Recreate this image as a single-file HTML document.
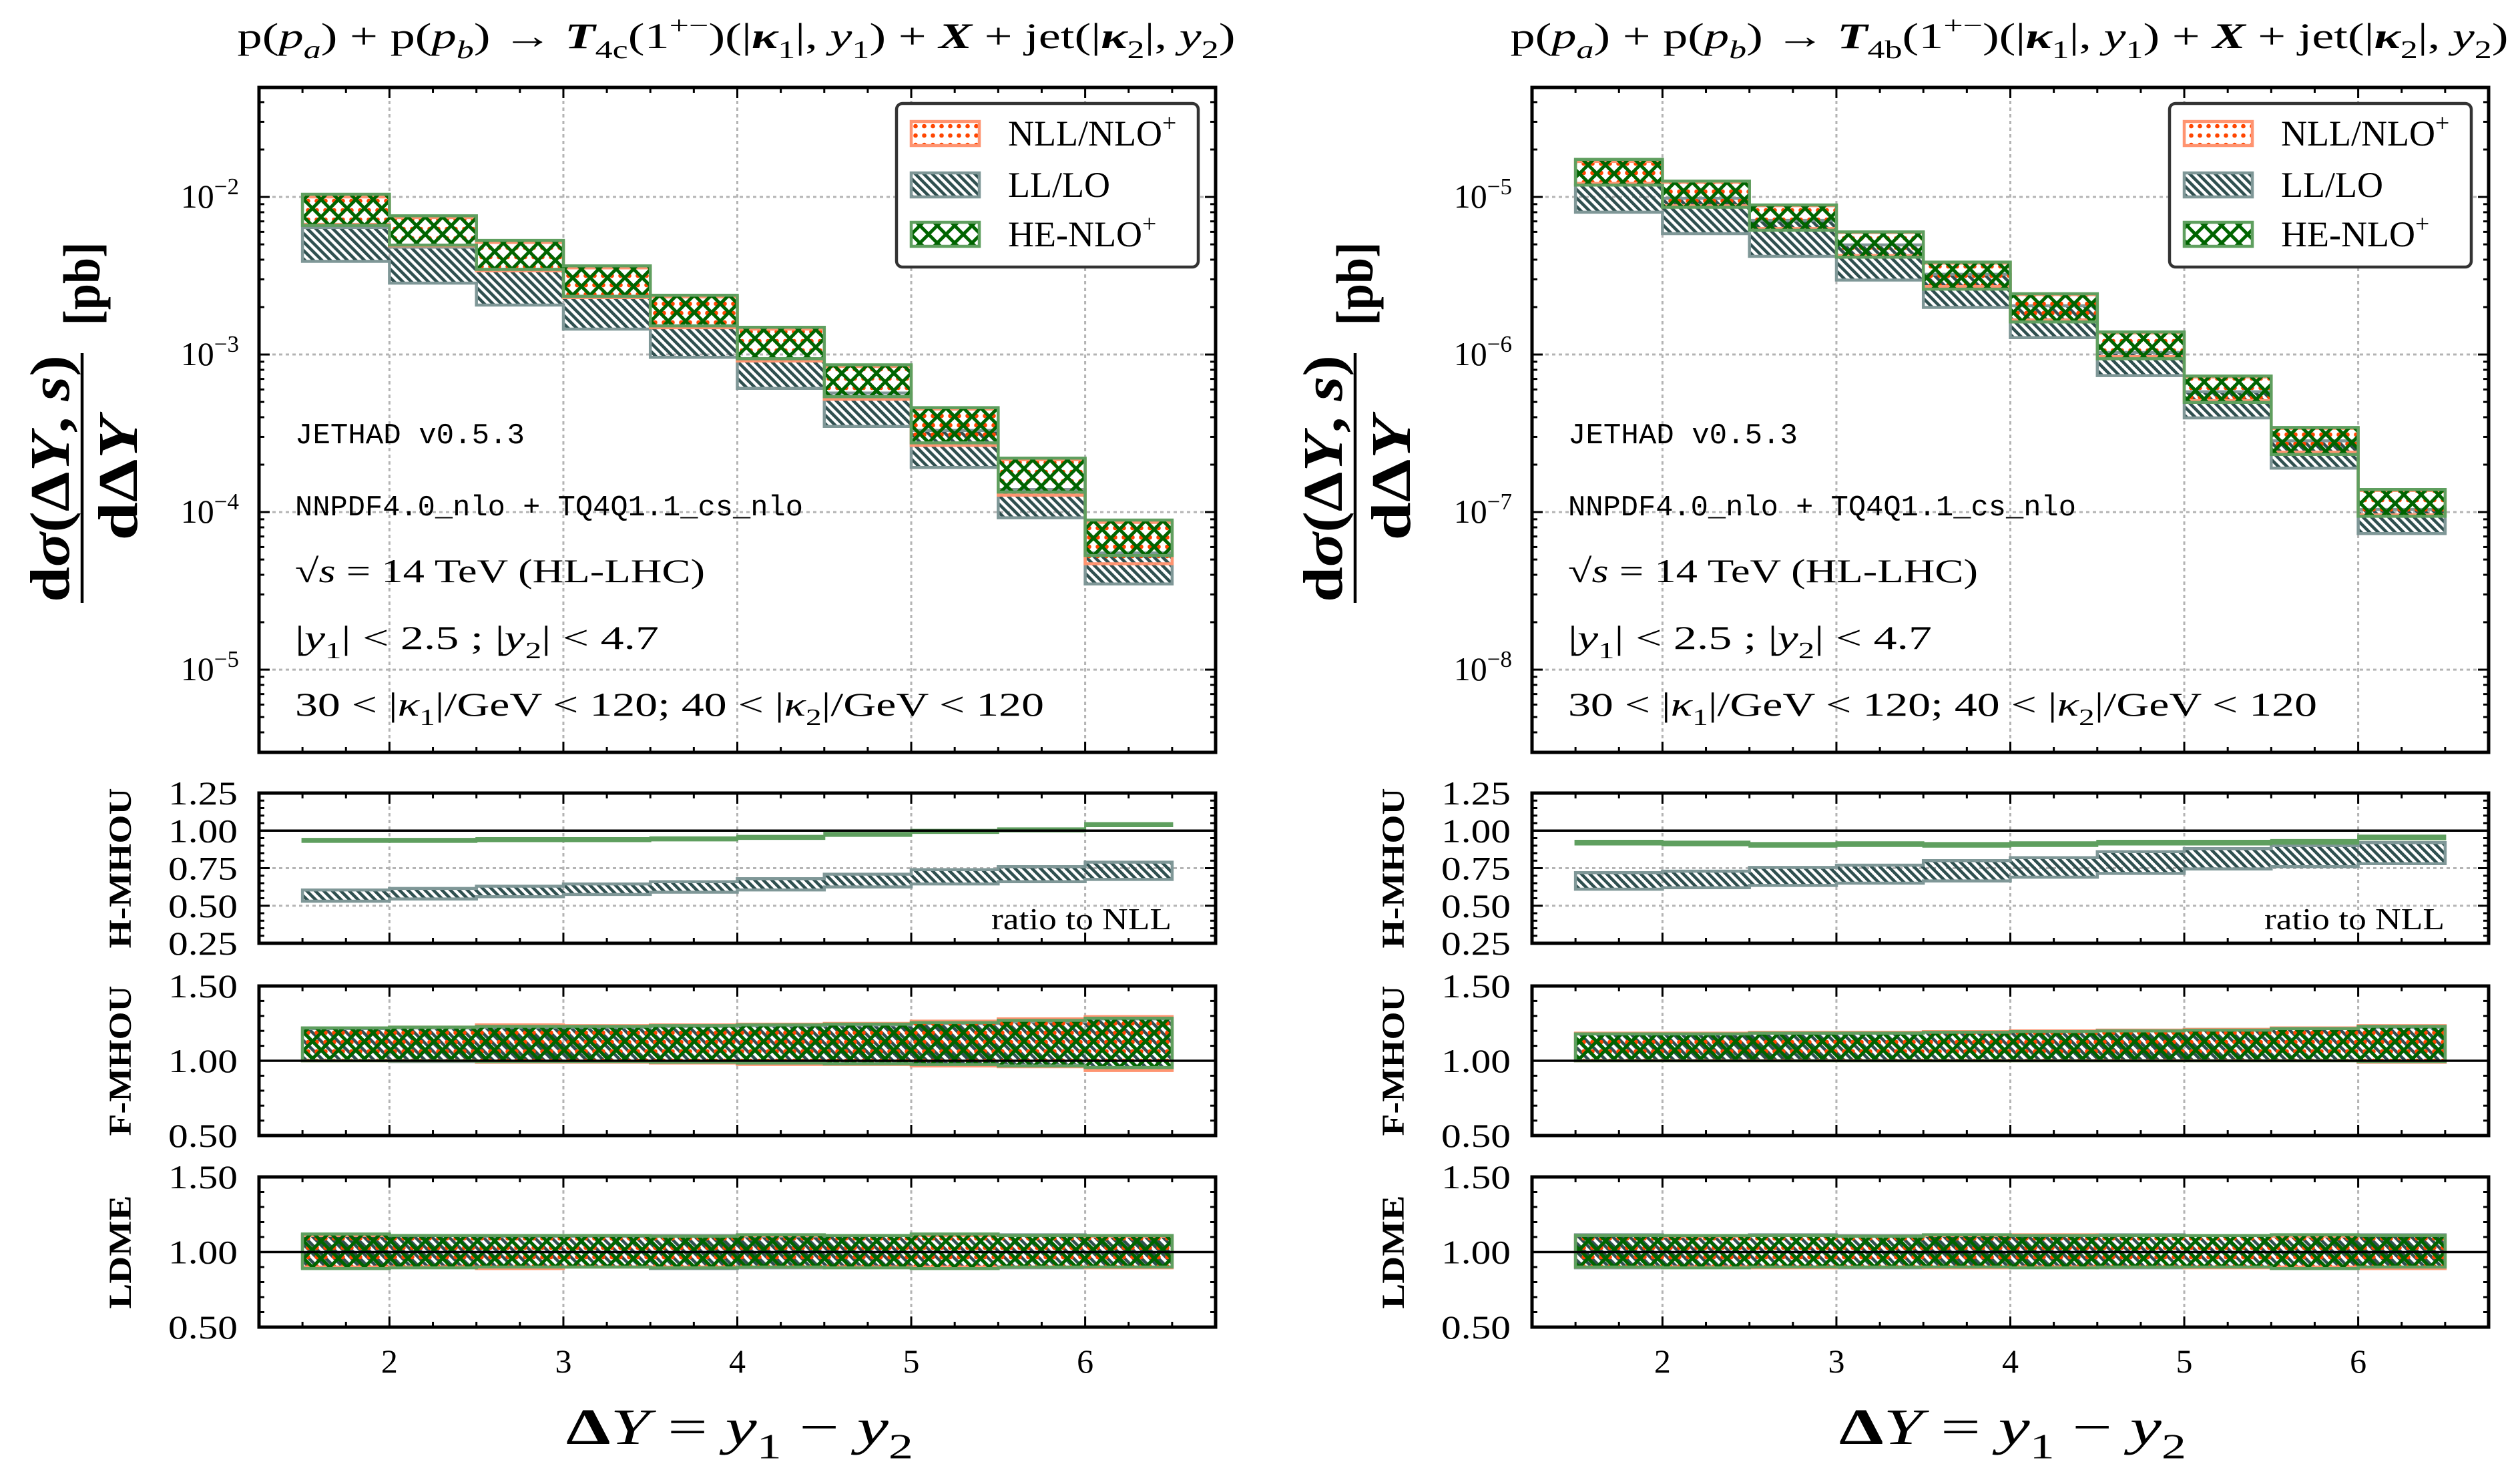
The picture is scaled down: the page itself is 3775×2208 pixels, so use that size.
<!DOCTYPE html>
<html><head><meta charset="utf-8">
<style>
html,body{margin:0;padding:0;background:#fff;}
svg{display:block;}
text{font-family:"Liberation Serif","DejaVu Serif",serif;fill:#000;}
.mono{font-family:"Liberation Mono","DejaVu Sans Mono",monospace;}
</style></head>
<body>
<svg id="fig" xmlns="http://www.w3.org/2000/svg" width="3775" height="2208" viewBox="0 0 3775 2208">
<defs>
<pattern id="pDots" width="13" height="14" patternUnits="userSpaceOnUse"><circle cx="6.5" cy="7" r="3.3" fill="#ff4500"/></pattern>
<pattern id="pStripe" width="9" height="9" patternUnits="userSpaceOnUse" patternTransform="rotate(-45)"><rect x="0" y="0" width="4.6" height="9" fill="#2f4f4f"/></pattern>
<pattern id="pCross" width="26" height="26" patternUnits="userSpaceOnUse"><path d="M-3,-3L29,29M29,-3L-3,29" stroke="#006400" stroke-width="5"/></pattern>
</defs>
<rect x="0" y="0" width="3775" height="2208" fill="#fff"/>
</svg>
<script>
// ---------------- data ----------------
const binEdges = [1.5,2,2.5,3,3.5,4,4.5,5,5.5,6,6.5];
const xTicks = [2,3,4,5,6];
// left panel: T4c
const c_nll_hi = [1.0e-2,7.4e-3,5.15e-3,3.55e-3,2.32e-3,1.45e-3,8.4e-4,4.5e-4,2.15e-4,8.6e-5];
const c_nll_lo = [6.7e-3,4.9e-3,3.4e-3,2.3e-3,1.48e-3,9.1e-4,5.2e-4,2.65e-4,1.28e-4,4.7e-5];
const c_ll_hi  = [6.4e-3,4.8e-3,3.47e-3,2.34e-3,1.52e-3,9.4e-4,5.7e-4,3.3e-4,1.39e-4,5.5e-5];
const c_ll_lo  = [3.9e-3,2.84e-3,2.06e-3,1.45e-3,9.6e-4,6.1e-4,3.5e-4,1.92e-4,9.2e-5,3.5e-5];
const c_he_hi  = [1.04e-2,7.6e-3,5.3e-3,3.65e-3,2.38e-3,1.49e-3,8.6e-4,4.6e-4,2.2e-4,8.9e-5];
const c_he_lo  = [6.6e-3,4.95e-3,3.47e-3,2.34e-3,1.52e-3,9.4e-4,5.4e-4,2.75e-4,1.34e-4,5.3e-5];
// right panel: T4b
const b_nll_hi = [1.68e-5,1.24e-5,8.8e-6,5.95e-6,3.8e-6,2.4e-6,1.37e-6,7.2e-7,3.4e-7,1.37e-7];
const b_nll_lo = [1.22e-5,8.8e-6,6.3e-6,4.25e-6,2.7e-6,1.66e-6,9.7e-7,5.1e-7,2.4e-7,9.6e-8];
const b_ll_hi  = [1.19e-5,9.8e-6,7.1e-6,4.96e-6,3.23e-6,2.04e-6,1.03e-6,5.8e-7,2.83e-7,1.04e-7];
const b_ll_lo  = [8.0e-6,5.85e-6,4.2e-6,2.97e-6,1.99e-6,1.28e-6,7.35e-7,3.96e-7,1.9e-7,7.3e-8];
const b_he_hi  = [1.73e-5,1.26e-5,8.9e-6,6.0e-6,3.86e-6,2.43e-6,1.39e-6,7.3e-7,3.44e-7,1.39e-7];
const b_he_lo  = [1.19e-5,8.6e-6,6.15e-6,4.15e-6,2.6e-6,1.61e-6,9.4e-7,4.97e-7,2.32e-7,9.4e-8];
// H-MHOU ratios
const c_h_he_hi = [0.945,0.945,0.95,0.95,0.955,0.965,0.985,1.005,1.015,1.05];
const c_h_he_lo = [0.925,0.925,0.93,0.93,0.935,0.945,0.965,0.985,0.995,1.03];
const c_h_ll_hi = [0.605,0.615,0.63,0.645,0.66,0.68,0.71,0.74,0.76,0.79];
const c_h_ll_lo = [0.53,0.545,0.56,0.575,0.59,0.605,0.625,0.645,0.66,0.675];
const b_h_he_hi = [0.932,0.927,0.917,0.922,0.917,0.922,0.932,0.932,0.937,0.967];
const b_h_he_lo = [0.908,0.903,0.893,0.898,0.893,0.898,0.908,0.908,0.913,0.943];
const b_h_ll_hi = [0.72,0.73,0.755,0.77,0.8,0.82,0.86,0.88,0.9,0.92];
const b_h_ll_lo = [0.61,0.62,0.635,0.65,0.665,0.69,0.715,0.745,0.76,0.78];
// F-MHOU ratios
const c_f_nll_hi = [1.22,1.225,1.24,1.235,1.24,1.245,1.25,1.265,1.28,1.295];
const c_f_nll_lo = [1.0,1.0,0.99,0.99,0.985,0.975,0.975,0.965,0.96,0.935];
const c_f_ll_hi  = [1.215,1.22,1.225,1.225,1.23,1.235,1.24,1.25,1.26,1.28];
const c_f_ll_lo  = [1.0,0.995,0.995,0.99,0.99,0.985,0.98,0.975,0.97,0.955];
const c_f_he_hi  = [1.22,1.225,1.23,1.23,1.235,1.24,1.245,1.255,1.27,1.285];
const c_f_he_lo  = [1.0,1.0,0.995,0.995,0.99,0.985,0.98,0.975,0.965,0.955];
const b_f_nll_hi = [1.185,1.185,1.19,1.19,1.195,1.2,1.205,1.21,1.22,1.235];
const b_f_nll_lo = [1.0,1.0,1.0,1.0,1.0,1.0,1.0,1.0,1.0,0.99];
const b_f_ll_hi  = [1.18,1.18,1.185,1.19,1.195,1.2,1.205,1.21,1.215,1.225];
const b_f_ll_lo  = [1.0,1.0,1.0,1.0,1.0,1.0,1.0,1.0,1.0,0.99];
const b_f_he_hi  = [1.18,1.18,1.185,1.185,1.19,1.195,1.2,1.205,1.215,1.23];
const b_f_he_lo  = [1.0,1.0,1.0,1.0,1.0,1.0,1.0,1.0,1.0,0.995];
// LDME ratios
const c_l_nll_hi = [1.11,1.11,1.11,1.11,1.105,1.11,1.11,1.11,1.11,1.105];
const c_l_nll_lo = [0.9,0.9,0.89,0.9,0.9,0.9,0.9,0.9,0.9,0.895];
const c_l_ll_hi  = [1.115,1.11,1.105,1.105,1.11,1.105,1.11,1.11,1.115,1.11];
const c_l_ll_lo  = [0.895,0.9,0.9,0.9,0.89,0.895,0.9,0.895,0.895,0.9];
const c_l_he_hi  = [1.12,1.11,1.11,1.11,1.105,1.115,1.11,1.12,1.11,1.11];
const c_l_he_lo  = [0.89,0.895,0.9,0.9,0.895,0.9,0.895,0.89,0.9,0.9];
const b_l_nll_hi = [1.11,1.105,1.11,1.105,1.11,1.115,1.11,1.11,1.105,1.11];
const b_l_nll_lo = [0.9,0.9,0.895,0.9,0.895,0.9,0.9,0.895,0.9,0.89];
const b_l_ll_hi  = [1.115,1.11,1.115,1.11,1.11,1.11,1.115,1.11,1.11,1.115];
const b_l_ll_lo  = [0.895,0.9,0.9,0.895,0.9,0.9,0.895,0.9,0.895,0.9];
const b_l_he_hi  = [1.11,1.11,1.11,1.105,1.115,1.11,1.11,1.11,1.115,1.11];
const b_l_he_lo  = [0.9,0.895,0.9,0.9,0.9,0.895,0.9,0.9,0.89,0.9];
const mainTickExpLeft = [-2,-3,-4,-5];
const mainTickExpRight = [-5,-6,-7,-8];
const hTickLabels = ["0.25","0.50","0.75","1.00","1.25"];
const fTickLabels = ["0.50","1.00","1.50"];

// ---------------- drawing ----------------
const NS = "http://www.w3.org/2000/svg";
const svg = document.getElementById('fig');
function mk(tag, attrs, parent){
  const e = document.createElementNS(NS, tag);
  for (const k in attrs) e.setAttribute(k, attrs[k]);
  parent.appendChild(e);
  return e;
}
// segs: [text, flags]; flags: i=italic b=bold _=sub ^=sup
function mkText(parent, x, y, size, segs, anchor, len){
  const t = mk('text', {x:x, y:y, 'font-size':size, 'text-anchor':anchor||'start'}, parent);
  if (len) { t.setAttribute('textLength', len); t.setAttribute('lengthAdjust','spacingAndGlyphs'); }
  let cur = 0;
  for (const [s, f] of segs) {
    let want = 0, fs = size;
    if (f.includes('_')) { want = size*0.28; fs = size*0.7; }
    if (f.includes('^')) { want = -size*0.4; fs = size*0.7; }
    const ts = mk('tspan', {dy: want-cur, 'font-size': fs}, t);
    if (f.includes('i')) ts.setAttribute('font-style','italic');
    if (f.includes('b')) ts.setAttribute('font-weight','bold');
    ts.textContent = s;
    cur = want;
  }
  return t;
}

const XMIN = 1.25, XMAX = 6.75;
const PX0 = 388, PW = 1433;
const mainY0 = 131, mainY1 = 1127;
const ratioBoxes = [[1188,1413,0.25,1.25],[1477,1701,0.5,1.5],[1763,1988,0.5,1.5]];

function stepPoints(X, Y, hi, lo){
  const pts = [];
  for (let i=0;i<hi.length;i++){ pts.push([X(binEdges[i]),Y(hi[i])]); pts.push([X(binEdges[i+1]),Y(hi[i])]); }
  for (let i=lo.length-1;i>=0;i--){ pts.push([X(binEdges[i+1]),Y(lo[i])]); pts.push([X(binEdges[i]),Y(lo[i])]); }
  return pts.map(p=>p[0].toFixed(1)+','+p[1].toFixed(1)).join(' ');
}
const styles = {
  nll: {fill:'url(#pDots)', stroke:'#ff9470'},
  ll:  {fill:'url(#pStripe)', stroke:'#7f9797'},
  he:  {fill:'url(#pCross)', stroke:'#5f9f5f'}
};
function band(g, X, Y, hi, lo, kind, name){
  const p = mk('polygon', {points: stepPoints(X,Y,hi,lo), fill: styles[kind].fill, stroke: styles[kind].stroke, 'stroke-width':4.5, 'stroke-linejoin':'miter'}, g);
  
  
}

function xGrid(g, y0, y1, X){
  for (const t of xTicks) {
    const l = mk('line', {x1:X(t), x2:X(t), y1:y0, y2:y1, stroke:'#b4b4b4', 'stroke-width':3, 'stroke-dasharray':'5,5'}, g);
    
    
  }
}
function xTickMarks(g, y0, y1, X){
  for (let v=1.5; v<=6.5+1e-9; v+=0.25) {
    const major = Math.abs(v-Math.round(v))<1e-9;
    const L = major?16:8;
    mk('line', {x1:X(v), x2:X(v), y1:y1, y2:y1-L, stroke:'#000','stroke-width':3}, g);
    mk('line', {x1:X(v), x2:X(v), y1:y0, y2:y0+L, stroke:'#000','stroke-width':3}, g);
  }
}
function frame(g, px0, y0, y1, name){
  const r = mk('rect', {x:px0, y:y0, width:PW, height:y1-y0, fill:'none', stroke:'#000', 'stroke-width':5}, g);
  
  
}

function drawPanel(ox, sub, d){
  const g = mk('g', {}, svg);
  
  
  const px0 = PX0 + ox;
  const X = v => px0 + (v - XMIN)/(XMAX - XMIN)*PW;

  // title
  const title = mkText(g, 1103 + ox, 72, 54, [
    ['p(',''],['p','i'],['a','i_'],[') + p(',''],['p','i'],['b','i_'],[') → ',''],['T','ib'],[sub,'_'],['(1',''],['+−','^'],[')(|',''],['κ','ib'],['1','_'],['|, ',''],['y','i'],['1','_'],[') + ',''],['X','ib'],[' + jet(|',''],['κ','ib'],['2','_'],['|, ',''],['y','i'],['2','_'],[')','']
  ], 'middle', 1495);
  
  

  // ---- main panel ----
  const topL = d.logTop, botL = d.logTop - 4.22;
  const Y = v => mainY0 + (topL - Math.log10(v))/(topL - botL)*(mainY1 - mainY0);
  const mg = mk('g', {}, g);
  
  
  xGrid(mg, mainY0, mainY1, X);
  for (const e of d.exps) {
    const yy = Y(Math.pow(10,e));
    const l = mk('line', {x1:px0, x2:px0+PW, y1:yy, y2:yy, stroke:'#b4b4b4','stroke-width':3,'stroke-dasharray':'5,5'}, mg);
    
    
    const lab = mkText(mg, px0-30, yy+16, 50, [['10',''],['−'+(-e),'^']], 'end');
    
    
  }
  for (let e = Math.floor(botL); e <= Math.ceil(topL); e++) {
    for (let m=1; m<=9; m++) {
      const v = m*Math.pow(10,e);
      const lv = Math.log10(v);
      if (lv < botL || lv > topL) continue;
      const yy = Y(v), L = m===1?16:8;
      mk('line',{x1:px0,x2:px0+L,y1:yy,y2:yy,stroke:'#000','stroke-width':3},mg);
      mk('line',{x1:px0+PW,x2:px0+PW-L,y1:yy,y2:yy,stroke:'#000','stroke-width':3},mg);
    }
  }
  band(mg, X, Y, d.ll_hi, d.ll_lo, 'll', 'll-lo-band');
  band(mg, X, Y, d.nll_hi, d.nll_lo, 'nll', 'nll-nlo-band');
  band(mg, X, Y, d.he_hi, d.he_lo, 'he', 'he-nlo-band');
  xTickMarks(mg, mainY0, mainY1, X);
  frame(mg, px0, mainY0, mainY1, 'main-frame');

  // annotations
  const ax = px0 + 54;
  let t;
  t = mkText(mg, ax, 664, 44, [['JETHAD v0.5.3','']], 'start', 344); t.setAttribute('class','mono');
   
  t = mkText(mg, ax, 772, 44, [['NNPDF4.0_nlo + TQ4Q1.1_cs_nlo','']], 'start', 761); t.setAttribute('class','mono');
   
  t = mkText(mg, ax, 872, 50, [['√','' ],['s','i'],[' = 14 TeV (HL-LHC)','']], 'start', 614);
   
  t = mkText(mg, ax, 972, 50, [['|',''],['y','i'],['1','_'],['| < 2.5 ;  |',''],['y','i'],['2','_'],['| < 4.7','']], 'start', 545);
   
  t = mkText(mg, ax, 1072, 50, [['30 < |',''],['κ','i'],['1','_'],['|/GeV < 120;  40 < |',''],['κ','i'],['2','_'],['|/GeV < 120','']], 'start', 1122);
   

  // legend
  const lg = mk('g', {}, mg);
  
  
  mk('rect',{x:1343+ox, y:155, width:452, height:245, rx:9, fill:'#fff', stroke:'#333', 'stroke-width':4.5}, lg);
  const legItems = [['nll','NLL/NLO','+'],['ll','LL/LO',''],['he','HE-NLO','+']];
  const rowsY = [200, 277, 351];
  legItems.forEach((it, i) => {
    const sw = mk('rect',{x:1365+ox, y:rowsY[i]-18, width:102, height:36, fill:styles[it[0]].fill, stroke:styles[it[0]].stroke,'stroke-width':4.5}, lg);
    
    
    const lt = mkText(lg, 1510+ox, rowsY[i]+18, 54, it[2]?[[it[1],''],[it[2],'^']]:[[it[1],'']], 'start');
    
    
  });

  // y label (rotated)
  const yl = mk('g', {transform:'translate('+(123+ox)+',633) rotate(-90)'}, g);
  
  
  mkText(yl, -84, -20, 84, [['d','b'],['σ','bi'],['(Δ','b'],['Y','bi'],[', ','b'],['s','bi'],[')','b']], 'middle', 370);
  mk('line',{x1:-270,x2:104,y1:0,y2:0,stroke:'#000','stroke-width':4.5}, yl);
  mkText(yl, -84, 82, 84, [['dΔ','b'],['Y','bi']], 'middle', 185);
  mkText(yl, 208, 26, 78, [['[pb]','b']], 'middle', 125);

  // ---- ratio panels ----
  const rdata = [
    {name:'H-MHOU', labels:hTickLabels, minor:0.05, series:[['ll',d.h_ll_hi,d.h_ll_lo],['hes',d.h_he_hi,d.h_he_lo]], grid:[0.5,0.75], ratioNote:true, len:240},
    {name:'F-MHOU', labels:fTickLabels, minor:0.1, series:[['ll',d.f_ll_hi,d.f_ll_lo],['nll',d.f_nll_hi,d.f_nll_lo],['he',d.f_he_hi,d.f_he_lo]], grid:[], len:225},
    {name:'LDME', labels:fTickLabels, minor:0.1, series:[['ll',d.l_ll_hi,d.l_ll_lo],['nll',d.l_nll_hi,d.l_nll_lo],['he',d.l_he_hi,d.l_he_lo]], grid:[], len:170}
  ];
  rdata.forEach((r, k) => {
    const [y0, y1, lo, hi] = ratioBoxes[k];
    const Yr = v => y1 - (v - lo)/(hi - lo)*(y1 - y0);
    const rg = mk('g', {}, g);
    
    
    xGrid(rg, y0, y1, X);
    for (const gv of r.grid) {
      const l = mk('line',{x1:px0,x2:px0+PW,y1:Yr(gv),y2:Yr(gv),stroke:'#b4b4b4','stroke-width':3,'stroke-dasharray':'5,5'}, rg);
      
      
    }
    for (const s of r.series) {
      if (s[0]==='hes') {
        const p = mk('polygon',{points:stepPoints(X,Yr,s[1],s[2]), fill:'#5f9f5f', stroke:'#5f9f5f','stroke-width':3}, rg);
        
        
      } else band(rg, X, Yr, s[1], s[2], s[0], s[0]+'-ratio-band');
    }
    const one = mk('line',{x1:px0,x2:px0+PW,y1:Yr(1),y2:Yr(1),stroke:'#000','stroke-width':3.5}, rg);
    
    
    for (let v=lo; v<=hi+1e-9; v+=r.minor) {
      const yy = Yr(v);
      const major = r.labels.includes(v.toFixed(2));
      const L = major?16:8;
      mk('line',{x1:px0,x2:px0+L,y1:yy,y2:yy,stroke:'#000','stroke-width':3},rg);
      mk('line',{x1:px0+PW,x2:px0+PW-L,y1:yy,y2:yy,stroke:'#000','stroke-width':3},rg);
    }
    for (const lab of r.labels) {
      const tt = mkText(rg, px0-32, Yr(parseFloat(lab))+17, 50, [[lab,'']], 'end', 104);
      
      
    }
    xTickMarks(rg, y0, y1, X);
    frame(rg, px0, y0, y1, 'ratio-frame');
    const yt = mk('g',{transform:'translate('+(196+ox)+','+((y0+y1)/2)+') rotate(-90)'}, rg);
    
    
    mkText(yt, 0, 0, 48, [[r.name,'b']], 'middle', r.len);
    if (r.ratioNote) {
      const rn = mkText(rg, px0+1367, 1392, 46, [['ratio to NLL','']], 'end', 270);
      
      
    }
  });

  for (const t2 of xTicks) {
    const xl = mkText(g, X(t2), 2056, 50, [[String(t2),'']], 'middle');
    
    
  }
  const xt = mkText(g, px0+720, 2163, 76, [['Δ','b'],['Y','i'],[' = ',''],['y','i'],['1','_'],[' − ',''],['y','i'],['2','_']], 'middle', 520);
  
  
}

drawPanel(0, '4c', {
  logTop:-1.305, exps:mainTickExpLeft,
  nll_hi:c_nll_hi, nll_lo:c_nll_lo, ll_hi:c_ll_hi, ll_lo:c_ll_lo, he_hi:c_he_hi, he_lo:c_he_lo,
  h_he_hi:c_h_he_hi, h_he_lo:c_h_he_lo, h_ll_hi:c_h_ll_hi, h_ll_lo:c_h_ll_lo,
  f_nll_hi:c_f_nll_hi, f_nll_lo:c_f_nll_lo, f_ll_hi:c_f_ll_hi, f_ll_lo:c_f_ll_lo, f_he_hi:c_f_he_hi, f_he_lo:c_f_he_lo,
  l_nll_hi:c_l_nll_hi, l_nll_lo:c_l_nll_lo, l_ll_hi:c_l_ll_hi, l_ll_lo:c_l_ll_lo, l_he_hi:c_l_he_hi, l_he_lo:c_l_he_lo
});
drawPanel(1907, '4b', {
  logTop:-4.305, exps:mainTickExpRight,
  nll_hi:b_nll_hi, nll_lo:b_nll_lo, ll_hi:b_ll_hi, ll_lo:b_ll_lo, he_hi:b_he_hi, he_lo:b_he_lo,
  h_he_hi:b_h_he_hi, h_he_lo:b_h_he_lo, h_ll_hi:b_h_ll_hi, h_ll_lo:b_h_ll_lo,
  f_nll_hi:b_f_nll_hi, f_nll_lo:b_f_nll_lo, f_ll_hi:b_f_ll_hi, f_ll_lo:b_f_ll_lo, f_he_hi:b_f_he_hi, f_he_lo:b_f_he_lo,
  l_nll_hi:b_l_nll_hi, l_nll_lo:b_l_nll_lo, l_ll_hi:b_l_ll_hi, l_ll_lo:b_l_ll_lo, l_he_hi:b_l_he_hi, l_he_lo:b_l_he_lo
});
</script>
</body></html>
